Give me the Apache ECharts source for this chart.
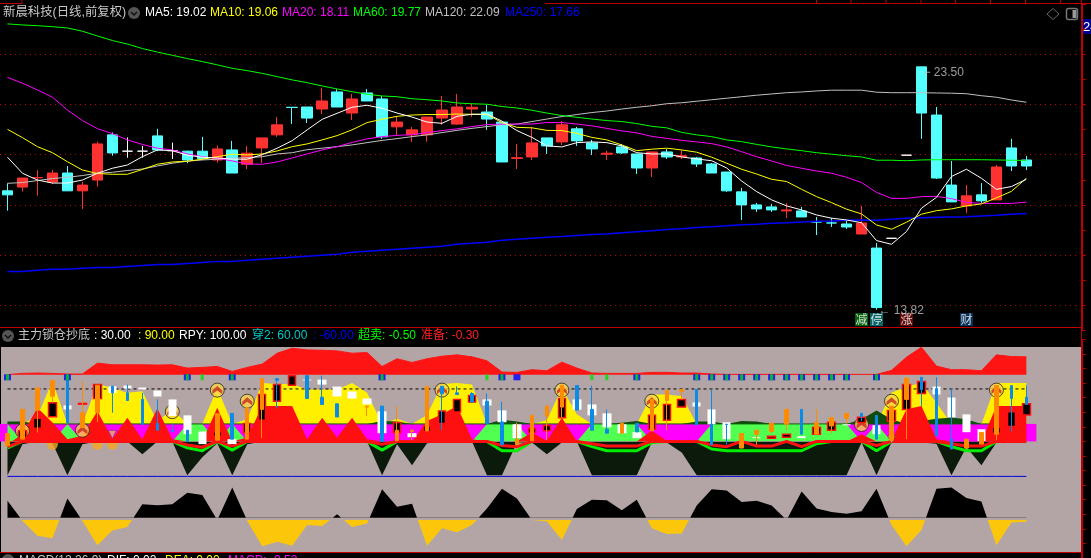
<!DOCTYPE html>
<html><head><meta charset="utf-8">
<style>html,body{margin:0;padding:0;background:#000;overflow:hidden}#c{width:1091px;height:558px}</style>
<script src="https://cdn.jsdelivr.net/npm/echarts@6/dist/echarts.min.js"></script>
</head><body><div id="c"></div>
<script>
// ---------- price pane ----------
const candles=[[18.56,18.40,17.77,18.86],[18.71,19.07,18.53,19.07],[19.08,19.09,18.37,19.39],[18.91,19.27,18.83,19.39],[19.27,18.56,18.56,19.55],[18.56,18.79,17.84,18.93],[18.99,20.43,18.73,20.53],[20.79,20.07,19.96,20.89],[20.14,20.14,19.88,20.69],[20.14,20.14,19.88,20.35],[20.75,20.19,20.14,21.03],[20.16,20.16,19.83,20.48],[20.14,19.79,19.66,20.16],[20.14,19.84,19.79,20.71],[19.79,20.23,19.68,20.36],[20.19,19.27,19.27,20.55],[19.62,20.06,19.43,20.35],[20.27,20.67,19.67,20.67],[20.79,21.19,20.71,21.50],[21.89,21.88,21.22,21.89],[21.90,21.46,21.26,21.90],[21.82,22.14,21.62,22.67],[22.50,21.90,21.90,22.61],[21.66,22.22,21.38,22.42],[22.46,22.14,22.14,22.62],[22.22,20.71,20.63,22.34],[21.11,21.30,20.77,21.53],[20.79,20.99,20.51,21.11],[20.79,21.50,20.51,21.50],[21.46,21.78,21.19,22.34],[21.22,21.90,21.19,22.42],[21.82,21.89,21.50,22.02],[21.70,21.42,20.99,21.98],[21.30,19.71,19.71,21.30],[19.85,19.88,19.43,20.43],[19.91,20.47,19.79,21.11],[20.67,20.35,20.03,20.67],[20.51,21.19,20.39,21.34],[21.03,20.55,20.35,21.11],[20.47,20.23,19.99,20.59],[20.02,20.06,19.79,20.16],[20.31,20.07,20.03,20.43],[20.03,19.47,19.23,20.03],[19.47,20.11,19.11,20.11],[20.11,19.91,19.83,20.23],[19.91,19.96,19.83,20.19],[19.87,19.63,19.51,19.91],[19.63,19.27,19.27,19.67],[19.31,18.56,18.52,19.31],[18.52,18.00,17.40,18.68],[18.00,17.84,17.72,18.08],[17.92,17.80,17.72,18.04],[17.76,17.80,17.48,18.08],[17.76,17.52,17.52,17.92],[17.32,17.32,16.80,17.52],[17.28,17.28,17.12,17.48],[17.24,17.12,17.04,17.40],[16.84,17.28,16.84,17.96],[16.28,13.91,13.82,16.48],[16.67,16.67,16.67,16.67],[19.98,19.98,19.98,19.98],[23.50,21.66,20.63,23.50],[21.58,19.07,19.03,21.90],[18.79,18.12,18.12,19.75],[17.96,18.36,17.68,18.79],[18.40,18.16,18.08,18.87],[18.20,19.51,18.20,19.59],[20.27,19.55,19.35,20.63],[19.79,19.55,19.39,19.95]];
const whiteDoji=[8,9,11,59,60];
const ma5=[19.90,19.26,18.99,18.87,18.87,18.99,19.26,19.46,19.59,19.92,20.19,20.16,19.98,19.90,19.87,19.82,19.82,20.00,20.26,20.56,20.99,21.41,21.65,21.89,21.97,21.85,21.66,21.50,21.30,21.25,21.53,21.61,21.62,21.34,20.96,20.69,20.35,20.31,20.48,20.51,20.48,20.35,20.08,20.03,20.03,19.91,19.83,19.76,19.47,18.95,18.53,18.20,17.96,17.80,17.60,17.47,17.40,17.29,16.58,16.43,16.94,17.87,18.30,19.13,19.42,19.06,18.62,18.73,19.02];
const ma10=[21.01,20.68,20.32,20.08,19.72,19.39,19.25,19.22,19.22,19.41,19.62,19.71,19.74,19.82,19.92,20.02,19.99,20.03,20.15,20.32,20.43,20.59,20.76,20.99,21.28,21.41,21.53,21.58,21.60,21.60,21.62,21.61,21.60,21.28,21.09,21.07,20.97,20.96,20.85,20.69,20.59,20.39,20.16,20.22,20.26,20.19,20.10,19.90,19.66,19.42,19.23,19.02,18.93,18.62,18.33,18.09,17.83,17.64,17.20,17.03,17.31,17.63,17.77,17.84,17.96,18.04,18.28,18.54,19.06];
const ma20=[23.08,22.85,22.58,22.29,21.78,21.36,21.04,20.84,20.59,20.41,20.26,20.19,20.03,19.92,19.86,19.75,19.63,19.62,19.71,19.87,20.03,20.19,20.32,20.49,20.63,20.72,20.77,20.80,20.88,20.96,21.03,21.12,21.20,21.22,21.22,21.22,21.28,21.28,21.22,21.15,21.05,20.95,20.87,20.73,20.65,20.57,20.51,20.44,20.31,20.12,19.92,19.75,19.57,19.46,19.35,19.26,19.10,18.89,18.50,18.26,18.26,18.33,18.34,18.25,18.10,18.06,18.06,18.06,18.11];
const ma60=[25.21,25.17,25.14,25.10,25.05,24.92,24.73,24.55,24.41,24.23,24.09,23.96,23.83,23.71,23.58,23.44,23.35,23.24,23.11,22.98,22.87,22.74,22.62,22.51,22.41,22.34,22.31,22.23,22.19,22.14,22.06,22.03,22.01,21.92,21.86,21.77,21.66,21.56,21.49,21.42,21.36,21.32,21.24,21.13,21.07,20.89,20.79,20.72,20.59,20.52,20.41,20.31,20.23,20.16,20.08,20.02,19.96,19.91,19.78,19.78,19.76,19.79,19.80,19.80,19.80,19.80,19.79,19.78,19.77];
const ma120=[18.86,18.89,18.97,19.05,19.10,19.17,19.26,19.30,19.37,19.43,19.55,19.66,19.74,19.79,19.82,19.86,19.88,19.92,20.03,20.08,20.20,20.26,20.32,20.39,20.48,20.57,20.64,20.72,20.79,20.88,20.97,21.05,21.12,21.19,21.22,21.32,21.42,21.52,21.60,21.68,21.74,21.82,21.89,21.95,22.03,22.07,22.13,22.19,22.25,22.31,22.37,22.42,22.47,22.50,22.54,22.57,22.57,22.57,22.49,22.47,22.47,22.47,22.46,22.45,22.43,22.35,22.29,22.18,22.09];
const ma250=[15.35,15.35,15.40,15.44,15.44,15.48,15.51,15.51,15.55,15.59,15.63,15.63,15.67,15.71,15.75,15.75,15.79,15.83,15.87,15.91,15.95,15.99,16.03,16.11,16.15,16.19,16.23,16.27,16.31,16.35,16.43,16.47,16.51,16.59,16.63,16.67,16.71,16.74,16.78,16.82,16.84,16.89,16.93,16.97,17.02,17.05,17.10,17.13,17.17,17.21,17.23,17.27,17.29,17.32,17.35,17.36,17.39,17.40,17.39,17.43,17.47,17.49,17.51,17.52,17.53,17.56,17.59,17.63,17.66];
const priceLevels=[14,16,18,20,22,24];
const priceNotes=[[61,23.50,'⌐ 23.50'],[58,13.82,'← 13.82']];
const eventTags=[[57,13.43,'减','#0b7a14'],[58,13.43,'停','#0b7f7f'],[60,13.43,'涨','#7a0b0b'],[64,13.43,'财','#0b3f72']];
// ---------- indicator pane ----------
const topArea=[114.5,116.7,117.3,116.7,115.6,115.6,134.3,131.5,131.5,131.5,130.9,131.5,125.8,127,128.6,120.1,127,132.6,151.3,159.8,157,156.4,155.3,151.3,152.4,128.6,141.7,135.4,141.7,146.2,148.5,145.1,138.3,119,118.4,123,121.3,136,125.8,117.3,116.7,116.7,116.7,118.4,118.4,117.3,117.3,115.6,115,115,115,115,115,115,115,115,115,115,115,121.8,144.5,161.5,129.2,123,123,121.3,148.5,145.6,145.1];
const yellowArea=[30,30,43.6,103,30,30,98.6,91.8,83.3,86.1,34,54.9,30,30,91.8,30,37.9,100.3,98.6,98.6,89,89,89,100.3,83.3,30,39,30,45.3,98.6,100.3,97.5,30,30,30,30,36.2,91.8,46.4,30,30,30,30,80.5,80.5,77.6,30,30,30,30,30,30,30,30,30,30,30,30,30,83.3,94,100.3,66.3,30,30,30,100.3,100.3,100.3];
const redArea=[-5,12.4,57.8,32.3,3.9,9.6,52.1,3.9,40.8,3.9,56.6,3.9,0,0,57.8,0,6.8,60.6,60.6,60.6,3.9,40.8,6.8,40.8,3.9,0,0,0,35.1,46.4,60.6,3.9,0,0,0,15.3,1.1,40.8,0,0,0,0,0,18.1,1.1,0,0,0,0,0,0,0,0,0,0,0,0,12.4,0,1.1,55,60.6,3.9,0,0,0,60.6,60.6,60.6];
const limeFlag=[30,0,0,0,30,0,0,0,0,0,0,0,30,30,0,30,0,0,0,0,0,0,0,0,0,0,0,0,0,0,0,0,30,30,30,0,0,0,0,30,30,30,30,0,0,0,0,30,30,30,30,30,30,30,30,30,30,0,30,0,0,0,0,0,0,0,0,0,0];
const magentaBand=[30,30,30,30,30,30,30,30,30,30,30,30,30,30,30,30,30,30,30,30,30,30,30,30,30,30,30,30,30,30,30,30,30,30,30,30,30,30,30,30,30,30,30,30,30,30,30,30,30,30,30,30,30,30,30,30,30,30,30,30,30,30,30,30,30,30,30,30,30];
const darkArea=[-58,-5,0,-3,-58,-5,0,0,0,-22,0,0,-58,-27,-3,-58,-5,0,0,0,0,0,0,0,0,-58,-5,-41,-3,0,0,0,-58,-58,-2,-2,-22,-2,0,-58,-58,-58,-58,-2,-2,-19,-58,-58,-58,-58,-58,-58,-58,-58,-58,-58,-58,-2,-58,-2,-2,-2,-4,-58,-10,-41,-2,0,0];
const humpArea=[34,34,30,30,30,30,30,30,30,30,30,30,30,30,30,30,30,30,30,30,30,30,30,30,30,35,34,30,30,30,30,30,30,37,34,30,30,30,30,30,30,32,35,30,30,30,34,34,30,35,34,30,30,30,30,30,30,38,53,38,30,35,39,41,38,30,30,30,30];
const redLine=[-9,0,0,0,0,0,0,0,0,0,0,0,-6,-10,0,-8,0,0,0,0,0,0,0,0,0,-5,0,0,0,0,0,0,0,-7,-9,0,0,0,0,-4,-8,-8,-8,0,0,0,0,-6,-9,0,-8,-8,0,-9,0,0,0,0,-7,0,0,0,0,-4,-8,-8,0,0,0];
const greenLine=[-11,0,0,0,0,0,0,0,0,0,0,0,-11,-16,0,-15,0,0,0,0,0,0,0,0,0,-15,0,0,0,0,0,0,0,-16,-16,0,0,0,0,-9,-16,-16,-16,-2,0,0,0,-13,-16,-16,-16,-16,-16,-16,-4,0,0,0,-16,0,0,0,0,-9,-16,-16,0,0,0];
const macdVals=[-102,-136,-162,-166,-98,-136,-178,-153,-147,-108,-109.5,-108,-88,-92,-135,-79,-136,-180,-172,-179,-143.5,-145,-125,-147,-141,-82,-112,-107,-179,-149,-156,-143.5,-115,-81,-98,-135,-137,-169,-116,-100,-101,-118,-100,-149,-159,-158,-110,-82,-84,-104,-102,-110,-135,-86,-115,-121,-124,-120,-81,-143.5,-180,-152,-81,-79,-97,-103,-178,-139,-138];
const lineLevels={k:90,d:30,low:-60,macdZero:-131};
// [bar, body top, body bottom, wick top, wick bottom]
const orangeSticks=[[0,13.6,-7.4],[1,54.9,3.9],[2,91.8,53.2,91.8,15.3],[3,104.3,77.6,104.3,66.3],[5,49.3,23.8,103.1,23.8],[6,96.3,49.3,96.3,33.4],[14,47.6,2.2],[16,57.8,3.9],[17,107.7,54.9,107.7,5.6],[24,60.6,58.9,60.6,43.6],[26,19.2,1.1,60.6,1.1],[27,19.2,17,21,2.2],[28,94.6,18.1],[34,3.9,-5.7,32.3,-5.7],[35,44.7,1.1],[36,60.6,43.6,60.6,2.2],[37,96.3,58.9,96.3,40.8],[41,31.1,14.1],[43,72,18.1],[44,87.8,70.2,87.8,19.2],[45,89,86.1,89,72],[49,13.6,-11.4],[50,19.2,12.4,19.2,-5.7],[51,31.1,17,31.1,13.6],[52,54.9,29.4,54.9,19.2],[54,32.3,12.4,54.9,12.4],[55,40.8,26.6,40.8,13.6],[56,48.1,39.6,48.1,30.6],[59,60.6,2.2],[60,108.8,72,108.8,3.9],[64,3.9,-11.4],[65,15.3,-4.6],[66,95.8,12.4,95.8,2.2]];
const blueSticks=[[4,114.5,32.3],[7,94.6,83.3,94.6,49.3],[8,83.3,70.2,97.5,70.2],[9,72,29.4,83.3,29.4],[10,30.6,19.2,72,19.2],[11,19.2,17,30.6,17],[12,19.2,0],[15,48.1,3.9],[18,107.7,104.8,107.7,56.6],[20,112.8,73.6],[21,75.9,63.4,112.8,63.4],[22,64.6,41.9],[25,60.6,0],[29,94.6,81.6,94.6,19.2],[30,83.3,80.5,94.6,80.5],[31,82.2,67.4,84.4,67.4],[32,69.1,30.6,82.2,30.6],[33,33.4,-5.7,68,-5.7],[38,95.8,53.8],[39,54.9,19.2,95.8,19.2],[40,20.9,14.1,54.9,14.1],[42,31.1,16.4],[46,89,28.3],[47,29.4,-5.7,89,-5.7],[48,29.4,29,29.4,-5.7],[53,54.9,12.4],[57,48.1,42.5,48.1,35.1],[58,44.7,3.9],[61,109.9,89,109.9,60.6],[62,90.7,9.6,109.9,9.6],[63,3.9,-13.1,90.7,-13.1],[67,95.8,73.6,95.8,17],[68,75.9,63.4,95.8,63.4]];
const whiteBlocks=[[4,61.7,54.9],[7,94.6,83.3],[8,95.8,90.7],[9,92.4,89],[10,87.3,77.1],[11,72,43.6],[12,44.7,12.4],[13,17,-4.6],[15,3.9,-4.6],[20,106,104.8],[21,106,97.5],[22,94.1,77.1],[23,85.6,73.6],[24,73.6,63.4],[25,51.5,14.1],[27,14.1,7.3],[32,72,61.7],[33,53.2,32.8],[34,29.4,5.6],[38,72,54.4],[39,63.4,44.7],[40,48.1,24.3],[41,29.4,14.1],[42,15.8,5.6],[46,66.8,60],[47,54.9,29.4],[48,32.8,3.9],[50,7.3,5.6],[53,9,5.6],[56,29.4,27.7],[58,27.7,12.4],[62,94.1,80.5],[63,75.3,41.3],[64,46.4,15.8],[65,20.9,0.5]];
const blackBlocks=[[1,18.1,6.8],[2,39.6,22.6],[3,66.3,42.5],[5,65.1,64],[6,97.5,73.6],[14,16.4,9],[16,30.6,15.3],[17,80.5,36.2],[18,97.5,69.1],[19,112.8,96.3],[26,32.3,15.3],[28,26.6,17],[29,52.1,30.6],[30,72,50.4],[31,78.7,67.4],[35,22.1,15.3],[36,27.2,18.1],[37,73.6,40.8],[43,44.7,20.9],[44,63.4,36.2],[45,72,58.9],[51,9,5.6],[52,12.4,7.3],[54,24.3,12.4],[55,32.8,19.2],[57,41.3,32.3],[59,53.2,34.5],[60,97.5,54.9],[61,102.6,82.2],[66,24.3,14.1],[67,51,25.5],[68,64.6,45.3]];
const coins=[[1,18],[5,19],[11,51],[14,88],[16,69],[29,88],[37,88],[43,69],[57,29],[59,69],[66,88]];
const lowCoins=[[3,-5],[6,-5],[7,-5]];
const drillMarks=[[7,12],[59,3]];
const markPairs=[0,4,12,15,25,33,42,46,47,48,49,50,51,52,53,54,55,56,58];
const markGreenOnly=[13,32,39,40];
const markBlueOnly=[34];
const markLevel=110;
const endBandBars=[0,68];
const endBandLevel=30;

const N=72, xs=Array.from({length:N},(_,i)=>String(i));
const LAT='"Liberation Sans","Noto Sans CJK SC",sans-serif';
const axisX=(g)=>({type:'category',gridIndex:g,data:xs,show:false,boundaryGap:true});
const hidY=(g)=>({type:'value',gridIndex:g,show:false,min:0,max:1});
const UP='#ff3232',DN='#54ffff';

const ind={xAxisIndex:1,yAxisIndex:1,animation:false,silent:true};
let zi=10;
function area(name,data,color,origin,lw){return Object.assign({type:'line',name,data,showSymbol:false,symbol:'none',z:zi++,
  lineStyle:{width:lw||0,color},itemStyle:{color},areaStyle:{color,opacity:1,origin}},ind);}
function hline(name,data,color,w,type){return Object.assign({type:'line',name,data,showSymbol:false,symbol:'none',z:zi++,
  lineStyle:{width:w,color,type:type||'solid'},itemStyle:{color}},ind);}
function flat(v){return Array.from({length:69},()=>v);}
function sticks(name,list,color,w,border,bw){
  const arr=Array.from({length:69},()=>['-','-','-','-']);
  list.forEach(s=>{const top=s[1],bot=s[2],wt=s.length>3?s[3]:top,wb=s.length>3?s[4]:bot;arr[s[0]]=[top,bot,wb,wt];});
  return Object.assign({type:'candlestick',name,data:arr,barWidth:w,z:zi++,
    itemStyle:{color,color0:color,borderColor:border,borderColor0:border,borderColorDoji:border,borderWidth:bw}},ind);
}
const fade='rgba(0,0,0,0)';
const macdBlack={type:'linear',x:0,y:470,x2:0,y2:566,global:true,colorStops:[{offset:0,color:'#000'},{offset:.5,color:'#000'},{offset:.5,color:fade},{offset:1,color:fade}]};
const macdGold={type:'linear',x:0,y:472,x2:0,y2:568,global:true,colorStops:[{offset:0,color:'rgba(252,198,10,0)'},{offset:.5,color:'rgba(252,198,10,0)'},{offset:.5,color:'#fcc60a'},{offset:1,color:'#fcc60a'}]};

const series=[
  // price pane
  {type:'candlestick',name:'K',xAxisIndex:0,yAxisIndex:0,barWidth:11,z:5,animation:false,silent:true,
   data:candles.map((c,i)=>{
     const w=whiteDoji.includes(i),d=c[0]===c[1];
     if(!d)return c;
     const col=w?'#ffffff':DN;
     return {value:c,itemStyle:{color:col,color0:col,borderColor:col,borderColor0:col,borderColorDoji:col}};
   }),
   itemStyle:{color:UP,color0:DN,borderColor:UP,borderColor0:DN,borderWidth:1},
   markLine:{silent:true,symbol:'none',animation:false,label:{show:false},
     lineStyle:{color:'#c00000',type:[1,4],width:1},data:priceLevels.map(v=>({yAxis:v}))}},
  ...[['MA120',ma120,'#c0c0c0'],['MA250',ma250,'#0000ff'],['MA60',ma60,'#00ff00'],['MA20',ma20,'#ff00ff'],['MA10',ma10,'#ffff00'],['MA5',ma5,'#ffffff']].map(([n,d,c])=>({
    type:'line',name:n,data:d,xAxisIndex:0,yAxisIndex:0,showSymbol:false,symbol:'none',z:6,animation:false,silent:true,
    lineStyle:{width:n==='MA250'?1.5:1,color:c},itemStyle:{color:c}})),
  {type:'scatter',name:'notes',xAxisIndex:0,yAxisIndex:0,symbolSize:0,z:7,animation:false,silent:true,
   data:priceNotes.map((n,i)=>({value:[n[0],n[1]],label:{formatter:n[2],offset:i?[2,1]:[2,6]}})),
   label:{show:true,position:'right',distance:0,color:'#c0c0c0',fontSize:12,fontFamily:LAT}},
  {type:'scatter',name:'tags',xAxisIndex:0,yAxisIndex:0,symbol:'rect',symbolSize:13,z:7,animation:false,silent:true,
   data:eventTags.map(t=>({value:[t[0],t[1]],itemStyle:{color:t[3]},label:{formatter:t[2]}})),
   label:{show:true,position:'inside',color:'#fff',fontSize:12,fontFamily:'"Noto Sans CJK SC",sans-serif'}},
  // indicator pane
  area('top',topArea,'#ff1414',114.5,1),
  Object.assign({type:'line',name:'macdUp',data:macdVals,showSymbol:false,symbol:'none',z:zi++,lineStyle:{width:0,opacity:0},
    areaStyle:{color:macdBlack,opacity:1,origin:lineLevels.macdZero}},ind),
  Object.assign({type:'line',name:'macdDown',data:macdVals,showSymbol:false,symbol:'none',z:zi++,lineStyle:{width:0,opacity:0},
    areaStyle:{color:macdGold,opacity:1,origin:lineLevels.macdZero}},ind),
  hline('low',flat(lineLevels.low),'#0000e0',1),
  area('dark',darkArea,'#0b1a0b',0),
  Object.assign({type:'scatter',name:'lowCoins',data:lowCoins,symbol:'circle',symbolSize:11,z:zi++,itemStyle:{color:'#f5a623'}},ind),
  Object.assign({type:'bar',name:'end',data:flat(null).map((v,i)=>endBandBars.includes(i)?endBandLevel:null),barWidth:20,z:zi++,itemStyle:{color:'#ff00ff'}},ind),
  area('magenta',magentaBand,'#ff00ff',0),
  area('lime',limeFlag,'#50ff50',0),
  area('yellow',yellowArea,'#fff000',30),
  area('hump',humpArea,'#0f4a0f',30),
  hline('g30',flat(30),'#0c5a0c',1),
  area('red',redArea,'#ff1010',0),
  hline('k2',flat(lineLevels.k),'#000',1,[3,3]),
  hline('greenL',greenLine,'#00ee00',3),
  hline('redL',redLine,'#ff1010',3),
  Object.assign({type:'scatter',name:'coinBase',data:coins,symbol:'circle',symbolSize:14,z:zi++,itemStyle:{color:'#f7d44a',borderColor:'#222',borderWidth:1}},ind),
  Object.assign({type:'scatter',name:'chevron',data:coins,symbol:'path://M0 9 L10 0 L20 9 L20 16 L10 9 L0 16 Z',symbolSize:[10,8],z:zi++,itemStyle:{color:'#c9281c'}},ind),
  Object.assign({type:'scatter',name:'drill',data:drillMarks,symbol:'triangle',symbolRotate:180,symbolSize:8,z:zi++,itemStyle:{color:'#e8b860',borderColor:'#333',borderWidth:.5}},ind),
  sticks('white',whiteBlocks,'#ffffff',9,'#ffffff',0),
  sticks('black',blackBlocks,'#000000',8,'#ff1010',1.5),
  sticks('orange',orangeSticks,'#ff8c00',4,'#ff8c00',1),
  sticks('blue',blueSticks,'#0a8ce6',3,'#0a8ce6',1),
  Object.assign({type:'scatter',name:'markBlue',data:markPairs.concat(markBlueOnly).map(i=>[i,markLevel]),symbol:'rect',symbolSize:[7,6],z:zi++,itemStyle:{color:'#0000ff'}},ind),
  Object.assign({type:'scatter',name:'markGreen',data:markPairs.concat(markGreenOnly).map(i=>[i,markLevel]),symbol:'rect',symbolSize:[3,6],z:zi++,itemStyle:{color:'#00e000'}},ind),
];

const txt=(x,y,t,c,s,fam)=>({type:'text',x,y,silent:true,style:{text:t,fill:c,font:(s||12)+'px '+(fam||LAT),textVerticalAlign:'middle',verticalAlign:'middle'}});
const ln=(x1,y1,x2,y2,c,w)=>({type:'line',silent:true,shape:{x1,y1,x2,y2},style:{stroke:c||'#c00000',lineWidth:w||1}});
const badge=(cx,cy)=>[{type:'circle',silent:true,shape:{cx,cy,r:6},style:{fill:'#555'}},
  {type:'polyline',silent:true,shape:{points:[[cx-3,cy-1],[cx,cy+2],[cx+3,cy-1]]},style:{stroke:'#111',lineWidth:1.5,fill:'none'}}];
const topTicks=[816.5,851,886,921,955.5,990.5,1025.5,1060.5];
const graphic=[
  txt(3,13,'新晨科技(日线,前复权)','#c8c8c8',12.4),
  ...badge(134,13),
  txt(145,13,'MA5: 19.02','#ffffff'),
  txt(210,13,'MA10: 19.06','#ffff00'),
  txt(282,13,'MA20: 18.11','#ff00ff'),
  txt(353,13,'MA60: 19.77','#00ff00'),
  txt(425,13,'MA120: 22.09','#c0c0c0'),
  txt(505,13,'MA250: 17.66','#0000ff'),
  ...badge(8,336),
  txt(18,336,'主力锁仓抄底','#c8c8c8'),
  txt(94,336,': 30.00','#ffffff'),
  txt(138,336,': 90.00','#ffff00'),
  txt(179,336,'RPY: 100.00','#ffffff'),
  txt(252,336,'穿2: 60.00','#00c8c8'),
  txt(313,336,': -60.00','#0000ff'),
  txt(358,336,'超卖: -0.50','#00ff00'),
  txt(421,336,'准备: -0.30','#ff2020'),
  ...badge(8,560),
  txt(19,561,'MACD(12,26,9)','#c8c8c8'),
  txt(107,561,'DIF: 0.02','#ffffff'),
  txt(165,561,'DEA: 0.00','#ffff00'),
  txt(228,561,'MACD: -0.52','#ff00ff'),
  ln(545,3.5,1091,3.5),
  ln(0,3.5,22,3.5),
  ln(22,0,22,3.5),
  ...topTicks.map(x=>ln(x,0,x,3.5)),
  ln(0,327.5,1082,327.5),
  ln(0,552.5,1082,552.5),
  ln(1081.5,0,1081.5,558),
  {type:'polygon',silent:true,shape:{points:[[1053,8.5],[1059,14],[1053,19.5],[1047,14]]},style:{fill:'none',stroke:'#666',lineWidth:1}},
  {type:'rect',silent:true,shape:{x:1066.5,y:8.5,width:11,height:11,r:2},style:{fill:'none',stroke:'#777',lineWidth:1.5}},
  {type:'rect',silent:true,shape:{x:1072.5,y:10,width:4,height:8},style:{fill:'#999'}},
  {type:'rect',silent:true,shape:{x:1082,y:19,width:9,height:15},style:{fill:'#00008c'}},
  txt(1083,27,'24','#ffffff',13),
];

const chart=echarts.init(document.getElementById('c'),null,{renderer:'canvas'});
chart.setOption({
  animation:false,backgroundColor:'#000',
  grid:[
    {left:-1.2,width:1080,top:4.1,height:326.3,show:false},
    {left:-1.2,width:1080,top:339.4,height:220.5,show:false},
    {left:1,width:1080,top:347,height:205,show:true,backgroundColor:'#b3a5a5',borderWidth:0,z:-1}
  ],
  xAxis:[axisX(0),axisX(1),axisX(2)],
  yAxis:[
    {type:'value',gridIndex:0,position:'right',offset:3,min:13,max:26,interval:1,
      axisLine:{show:true,lineStyle:{color:'#c00000'}},axisTick:{show:true,length:4,lineStyle:{color:'#c00000'}},
      axisLabel:{show:false},splitLine:{show:false}},
    {type:'value',gridIndex:1,position:'right',offset:3,min:-200,max:175,interval:25,
      axisLine:{show:true,lineStyle:{color:'#c00000'}},axisTick:{show:true,length:4,lineStyle:{color:'#c00000'}},
      axisLabel:{show:false},splitLine:{show:false}},
    hidY(2)
  ],
  graphic:{elements:graphic},
  series
});
</script></body></html>
